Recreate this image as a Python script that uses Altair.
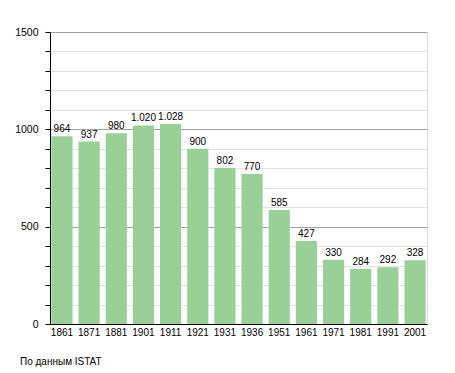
import altair as alt
import pandas as pd

years = ["1861", "1871", "1881", "1901", "1911", "1921", "1931", "1936", "1951", "1961", "1971", "1981", "1991", "2001"]
population = [964, 937, 980, 1020, 1028, 900, 802, 770, 585, 427, 330, 284, 292, 328]
labels = ["964", "937", "980", "1.020", "1.028", "900", "802", "770", "585", "427", "330", "284", "292", "328"]
source_note = "По данным  ISTAT"

df = pd.DataFrame({"year": years, "pop": population, "label": labels})

W, H = 377, 292
FONT = "Liberation Sans"
FS = 10.5

x = alt.X("year:N", sort=None, title=None,
          scale=alt.Scale(paddingInner=0.22, paddingOuter=0.05),
          axis=alt.Axis(labelAngle=0, ticks=False, domainColor="black", labelFont=FONT,
                        labelFontSize=10, labelColor="black", labelPadding=3, grid=False))
y = alt.Y("pop:Q", title=None,
          scale=alt.Scale(domain=[0, 1500], nice=False),
          axis=alt.Axis(values=list(range(0, 1501, 100)), tickCount=20,
                        labelExpr="datum.value % 500 === 0 ? datum.value : ''",
                        labelOverlap=False,
                        tickColor="black", tickSize=5, domainColor="black",
                        labelFont=FONT, labelFontSize=FS, labelColor="black", labelPadding=7,
                        gridColor={"condition": {"test": "datum.value % 500 === 0", "value": "#a0a0a0"},
                                   "value": "#e2e2e2"}))

bars = alt.Chart(df).mark_bar(color="#9bcf98").encode(x=x, y=y)
text = alt.Chart(df).mark_text(baseline="bottom", dy=-2, font=FONT, fontSize=10, color="black").encode(
    x="year:N", y="pop:Q", text="label:N")
note = alt.Chart(pd.DataFrame({"t": [source_note]})).mark_text(
    align="left", baseline="middle", font=FONT, fontSize=10, color="black").encode(
    x=alt.value(-30), y=alt.value(H + 38), text="t:N")

chart = alt.layer(bars, text, note).properties(
    width=W, height=H, autosize=alt.AutoSizeParams(type="none"),
    padding={"left": 42, "top": 24, "right": 20, "bottom": 48}
).configure_view(stroke=None).configure(background="white")

chart.save("out.html", embed_options={"renderer": "svg", "actions": False})
